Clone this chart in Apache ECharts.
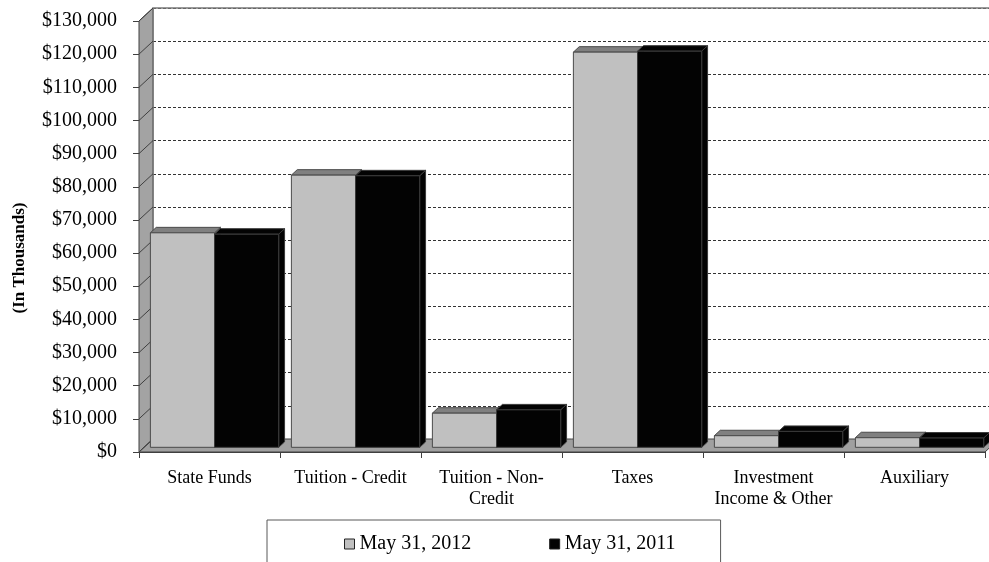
<!DOCTYPE html>
<html>
<head>
<meta charset="utf-8">
<title>Revenue by Source</title>
<script src="https://cdn.jsdelivr.net/npm/echarts@6/dist/echarts.min.js"></script>
<style>
  html, body { margin: 0; padding: 0; background: #ffffff; }
  #chart { width: 989px; height: 562px; }
</style>
</head>
<body>
<div id="chart"></div>
<script>
// ---- data (in thousands of dollars) ----
const categories = ['State Funds', 'Tuition - Credit', 'Tuition - Non-\nCredit', 'Taxes', 'Investment\nIncome & Other', 'Auxiliary'];
const seriesNames = ['May 31, 2012', 'May 31, 2011'];
const may2012 = [64700, 82100, 10300, 119200, 3500, 2900];
const may2011 = [64300, 81900, 11300, 119500, 4800, 2800];
const Y_MIN = 0;
const Y_MAX = 130000;
const Y_STEP = 10000;

// ---- 3D look ----
const DEPTH = { x: 14, y: -13 };      // offset from the front plane to the back wall
const FACE_FRONT = 0.36;               // depth fraction of the bar front faces
const FACE_BACK = 0.78;                // depth fraction of the bar back faces
const BAR_SHARE = 0.455;               // bar width as share of a category band
const FONT = '"Liberation Serif", "Times New Roman", serif';

const faces = [
  { front: '#c0c0c0', top: '#808080', side: '#808080', edge: '#4a4a4a' },
  { front: '#030303', top: '#030303', side: '#030303', edge: '#3a3a3a' }
];

function money(v) {
  return '$' + String(v).replace(/\B(?=(\d{3})+(?!\d))/g, ',');
}

// side wall, floor and back-wall edges, built from the front grid rectangle
function renderWalls(params, api) {
  const cs = params.coordSys;
  const x0 = cs.x, x1 = cs.x + cs.width;
  const yT = cs.y, yB = cs.y + cs.height;
  const dx = DEPTH.x, dy = DEPTH.y;
  const children = [
    { type: 'polygon', shape: { points: [[x0, yT], [x0 + dx, yT + dy], [x0 + dx, yB + dy], [x0, yB]] },
      style: { fill: '#a3a3a3', stroke: '#404040', lineWidth: 1 } },
    { type: 'polygon', shape: { points: [[x0, yB], [x0 + dx, yB + dy], [x1 + dx, yB + dy], [x1, yB]] },
      style: { fill: '#a0a0a0', stroke: '#404040', lineWidth: 1 } },
    { type: 'polyline', shape: { points: [[x0 + dx, yB + dy], [x0 + dx, yT + dy], [x1 + dx + 20, yT + dy]] },
      style: { fill: null, stroke: '#7a7a7a', lineWidth: 1.5 } }
  ];
  for (let v = Y_MIN; v <= Y_MAX; v += Y_STEP) {
    const y = api.coord([0, v])[1];
    children.push({ type: 'line', shape: { x1: x0, y1: y, x2: x0 + dx, y2: y + dy },
      style: { stroke: '#404040', lineWidth: 1 } });
  }
  return { type: 'group', children: children };
}

// one box-shaped column; slot 0 sits left of the category centre, slot 1 right
function barRenderer(slot, face) {
  return function (params, api) {
    const cat = api.value(0);
    const val = api.value(1);
    const base = api.coord([cat, 0]);
    const top = api.coord([cat, val]);
    const band = api.size([1, 0])[0];
    const bw = band * BAR_SHARE;
    const fx = DEPTH.x * FACE_FRONT, fy = DEPTH.y * FACE_FRONT;
    const dx = DEPTH.x * (FACE_BACK - FACE_FRONT), dy = DEPTH.y * (FACE_BACK - FACE_FRONT);
    const xl = base[0] + (slot === 0 ? -bw : 0) + fx;
    const xr = xl + bw;
    const yt = top[1] + fy;
    const yb = base[1] + fy;
    return {
      type: 'group',
      children: [
        { type: 'polygon', shape: { points: [[xr, yt], [xr + dx, yt + dy], [xr + dx, yb + dy], [xr, yb]] },
          style: { fill: face.side, stroke: face.edge, lineWidth: 1 } },
        { type: 'polygon', shape: { points: [[xl, yt], [xl + dx, yt + dy], [xr + dx, yt + dy], [xr, yt]] },
          style: { fill: face.top, stroke: face.edge, lineWidth: 1 } },
        { type: 'rect', shape: { x: xl, y: yt, width: bw, height: yb - yt },
          style: { fill: face.front, stroke: face.edge, lineWidth: 1 } }
      ]
    };
  };
}

const chart = echarts.init(document.getElementById('chart'), null, { renderer: 'canvas' });

const option = {
  animation: false,
  backgroundColor: '#ffffff',
  grid: [
    { left: 139, top: 21, width: 846, height: 431, containLabel: false, outerBoundsMode: 'none' },
    { left: 139 + DEPTH.x, top: 21 + DEPTH.y, width: 846, height: 431, containLabel: false, outerBoundsMode: 'none' }
  ],
  xAxis: [
    {
      gridIndex: 0, type: 'category', data: categories, boundaryGap: true,
      axisLine: { show: true, lineStyle: { color: '#404040', width: 1 } },
      axisTick: { show: true, length: 6, interval: 0, lineStyle: { color: '#404040' } },
      axisLabel: { interval: 0, margin: 16, fontFamily: FONT, fontSize: 18, lineHeight: 21, color: '#000' },
      splitLine: { show: false }
    },
    { gridIndex: 1, type: 'category', data: categories, show: false }
  ],
  yAxis: [
    {
      gridIndex: 0, type: 'value', min: Y_MIN, max: Y_MAX, interval: Y_STEP,
      axisLine: { show: true, lineStyle: { color: '#404040', width: 1 } },
      axisTick: { show: true, length: 6, lineStyle: { color: '#404040' } },
      axisLabel: { margin: 22, formatter: money, fontFamily: FONT, fontSize: 20, color: '#000' },
      splitLine: { show: false }
    },
    {
      gridIndex: 1, type: 'value', min: Y_MIN, max: Y_MAX, interval: Y_STEP,
      axisLine: { show: false }, axisTick: { show: false }, axisLabel: { show: false },
      splitLine: { show: true, lineStyle: { color: '#333333', width: 1, type: [3, 2] } }
    }
  ],
  legend: {
    data: seriesNames,
    left: 267, top: 520,
    orient: 'horizontal',
    padding: [14, 45, 20, 77],
    itemGap: 78, itemWidth: 10, itemHeight: 10,
    icon: 'rect',
    borderColor: '#595959', borderWidth: 1,
    itemStyle: { borderColor: '#222', borderWidth: 1 },
    textStyle: { fontFamily: FONT, fontSize: 20, color: '#000' }
  },
  graphic: [
    {
      type: 'text', x: 19.5, y: 258, rotation: Math.PI / 2,
      style: { text: '(In Thousands)', font: 'bold 17px ' + FONT, fill: '#000', align: 'center', verticalAlign: 'middle' }
    }
  ],
  series: [
    {
      type: 'custom', name: 'walls', xAxisIndex: 0, yAxisIndex: 0, z: 1,
      renderItem: renderWalls, data: [[0, 0]], silent: true
    },
    {
      type: 'custom', name: seriesNames[0], xAxisIndex: 0, yAxisIndex: 0, z: 2,
      itemStyle: { color: faces[0].front, borderColor: '#222', borderWidth: 1 },
      encode: { x: 0, y: 1 },
      renderItem: barRenderer(0, faces[0]),
      data: may2012.map(function (v, i) { return [i, v]; })
    },
    {
      type: 'custom', name: seriesNames[1], xAxisIndex: 0, yAxisIndex: 0, z: 3,
      itemStyle: { color: faces[1].front, borderColor: '#222', borderWidth: 1 },
      encode: { x: 0, y: 1 },
      renderItem: barRenderer(1, faces[1]),
      data: may2011.map(function (v, i) { return [i, v]; })
    }
  ]
};

chart.setOption(option);
</script>
</body>
</html>
